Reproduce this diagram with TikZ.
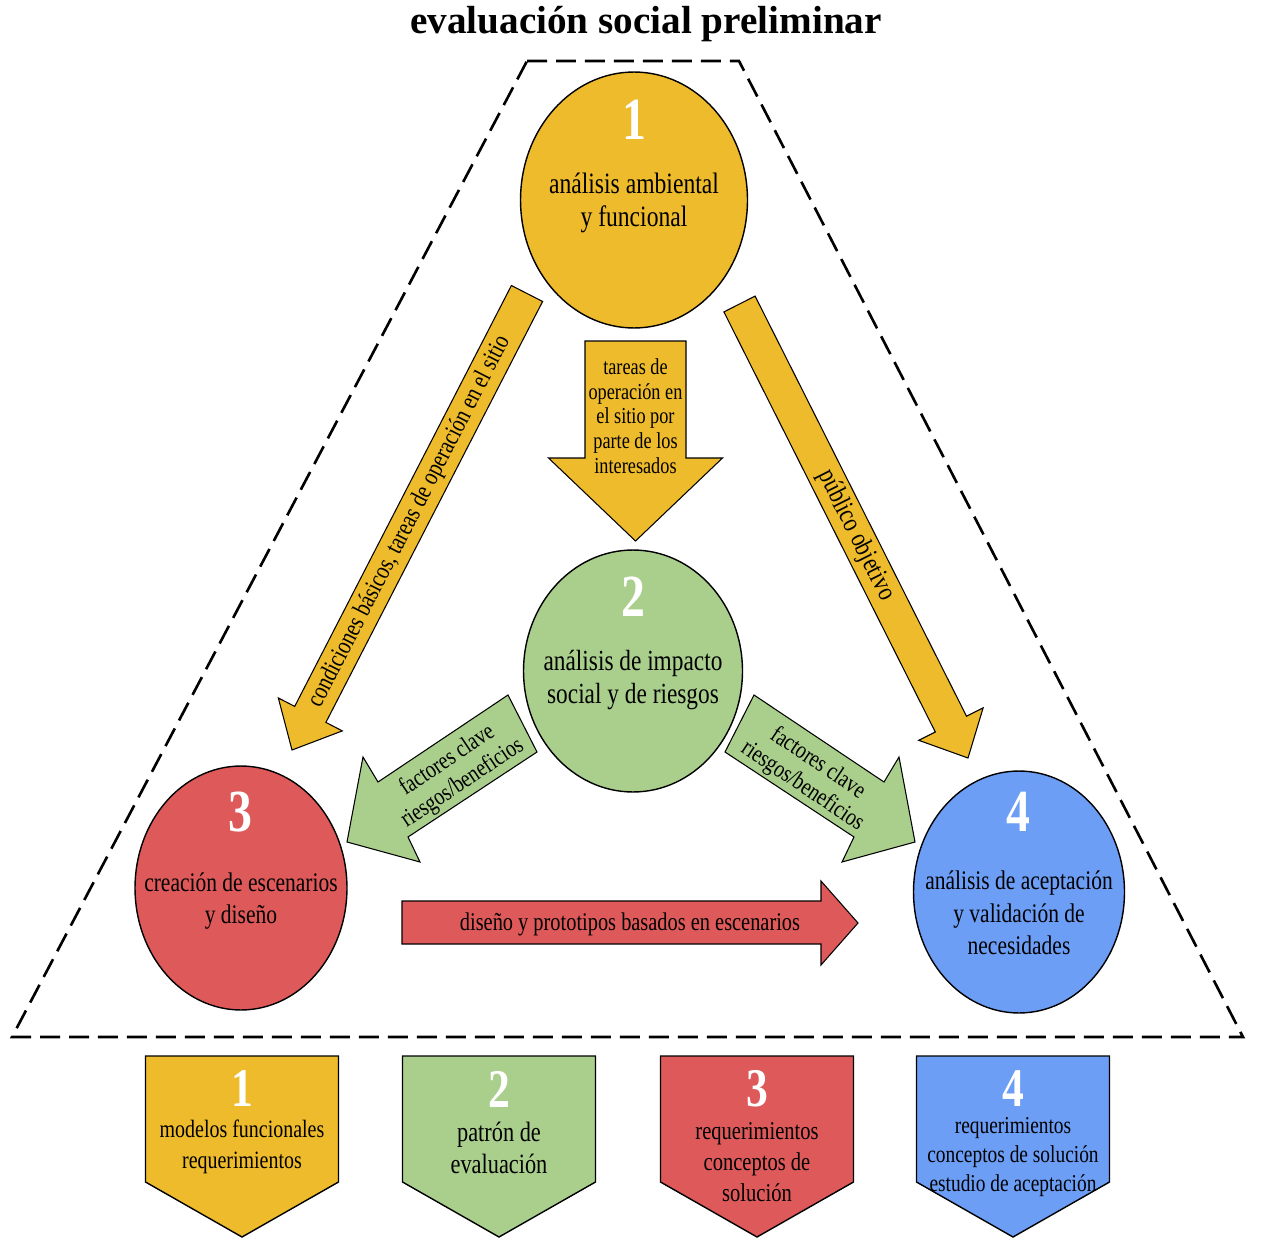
\documentclass[tikz,border=0pt]{standalone}
\usepackage{fontspec}
\setmainfont{Liberation Serif}[FakeStretch=0.8]
\newfontfamily\titulofont{Liberation Serif}
\usetikzlibrary{shapes.geometric}
\definecolor{amarillo}{RGB}{238,187,44}
\definecolor{verde}{RGB}{170,207,141}
\definecolor{rojo}{RGB}{222,89,90}
\definecolor{azul}{RGB}{108,158,246}
\tikzset{%
    circ/.style={ellipse, draw, line width=0.8pt, inner sep=0pt},
    num/.style={text=white, inner sep=0pt, font=\bfseries\fontsize{34}{34}\selectfont},
    numc/.style={text=white, inner sep=0pt, font=\bfseries\fontsize{31}{31}\selectfont},
    txt/.style={align=center, inner sep=0pt},
    flecha/.style={draw, line width=0.6pt},
    caja/.style={draw, line width=0.8pt},
    marco/.style={line width=1.5pt, dash pattern=on 0.4cm off 0.18cm},
}
\begin{document}
\begin{tikzpicture}[x=0.02cm, y=-0.02cm]
    \useasboundingbox (0,0) rectangle (1261,1247);
    \node[font=\titulofont\bfseries\fontsize{22.3}{22.3}\selectfont] (titulo) at (646,24) {evaluación social preliminar};
    \draw[marco] (527,61) -- (739,61) -- (1243,1037) -- (12,1037) -- cycle;
    % circulos
    \node[circ, fill=amarillo, minimum width=4.54cm, minimum height=5.12cm] (c1) at (634,200) {};
    \node[circ, fill=verde, minimum width=4.38cm, minimum height=4.84cm] (c2) at (633,671) {};
    \node[circ, fill=rojo, minimum width=4.24cm, minimum height=4.88cm] (c3) at (241,888) {};
    \node[circ, fill=azul, minimum width=4.22cm, minimum height=4.84cm] (c4) at (1019,892) {};
    \node[num] (n1) at (634,120) {1};
    \node[num] (n2) at (633,597) {2};
    \node[num] (n3) at (240,812) {3};
    \node[num] (n4) at (1018,812) {4};
    \node[txt, font=\fontsize{16.8}{18.8}\selectfont] (t1) at (634,202.5) {análisis ambiental\\y funcional};
    \node[txt, font=\fontsize{16.6}{18.8}\selectfont] (t2) at (633,680) {análisis de impacto\\social y de riesgos};
    \node[txt, font=\fontsize{15.3}{18.5}\selectfont] (t3) at (241,901) {creación de escenarios\\y diseño};
    \node[txt, font=\fontsize{15.3}{18.5}\selectfont] (t4) at (1019,913) {análisis de aceptación\\y validación de\\necesidades};
    % flechas
    \draw[flecha, fill=amarillo] (585,341) -- (686,341) -- (686,458) -- (722.5,458) -- (635.5,541) -- (548.5,458) -- (585,458) -- cycle;
    \node[txt, font=\fontsize{13}{14.1}\selectfont] (l12) at (635.5,416) {tareas de\\operación en\\el sitio por\\parte de los\\interesados};
    \coordinate (a13i) at (527,293.5);
    \coordinate (a13f) at (292,750);
    \draw[flecha, fill=amarillo] (511.4,285.5) -- (542.6,301.5) -- (325.9,722.4) -- (342.3,730.9) -- (a13f) -- (278.3,697.9) -- (294.7,706.4) -- cycle;
    \path (a13i) -- (a13f) node[midway, sloped, font=\fontsize{14.5}{16}\selectfont] (l13) {condiciones básicos, tareas de operación en el sitio};
    \coordinate (a14i) at (739.5,304);
    \coordinate (a14f) at (968,758);
    \draw[flecha, fill=amarillo] (723.9,311.9) -- (755.1,296.1) -- (966.5,716.2) -- (983.1,707.9) -- (a14f) -- (918.7,740.3) -- (935.3,732.0) -- cycle;
    \path (a14i) -- (a14f) node[pos=0.51, sloped, font=\fontsize{15.5}{17}\selectfont] (l14) {público objetivo};
    \draw[flecha, fill=verde] (508,695) -- (537,752) -- (408,837) -- (420,862) -- (347,842) -- (363,757) -- (378,782) -- cycle;
    \node[txt, rotate=33.8, font=\fontsize{14}{15.5}\selectfont] (l23) at (455,772) {factores clave\\riesgos/beneficios};
    \draw[flecha, fill=verde] (754,695) -- (725,752) -- (854,837) -- (842,862) -- (915,842) -- (899,757) -- (884,782) -- cycle;
    \node[txt, rotate=-33.8, font=\fontsize{14}{15.5}\selectfont] (l24) at (810,775) {factores clave\\riesgos/beneficios};
    \draw[flecha, fill=rojo] (402,901) -- (821,901) -- (821,881) -- (858,923) -- (821,965) -- (821,944) -- (402,944) -- cycle;
    \node[font=\fontsize{14.5}{16}\selectfont, inner sep=0pt] (l34) at (630,924) {diseño y prototipos basados en escenarios};
    % cajas
    \foreach \cx/\col/\k in {242/amarillo/1, 499/verde/2, 757/rojo/3, 1013/azul/4}{
        \draw[caja, fill=\col] (\cx-96.5,1056) -- (\cx+96.5,1056) -- (\cx+96.5,1182) -- (\cx,1237) -- (\cx-96.5,1182) -- cycle;
        \node[numc] (k\k) at (\cx,1089) {\k};
    }
    \node[txt, font=\fontsize{14.2}{17.6}\selectfont] (b1) at (242,1147) {modelos funcionales\\requerimientos};
    \node[txt, font=\fontsize{15.9}{18.2}\selectfont] (b2) at (499,1148) {patrón de\\evaluación};
    \node[txt, font=\fontsize{14.6}{17.6}\selectfont] (b3) at (757,1162) {requerimientos\\conceptos de\\solución};
    \node[txt, font=\fontsize{13.8}{16.5}\selectfont] (b4) at (1013,1157) {requerimientos\\conceptos de solución\\estudio de aceptación};
\end{tikzpicture}
\end{document}
